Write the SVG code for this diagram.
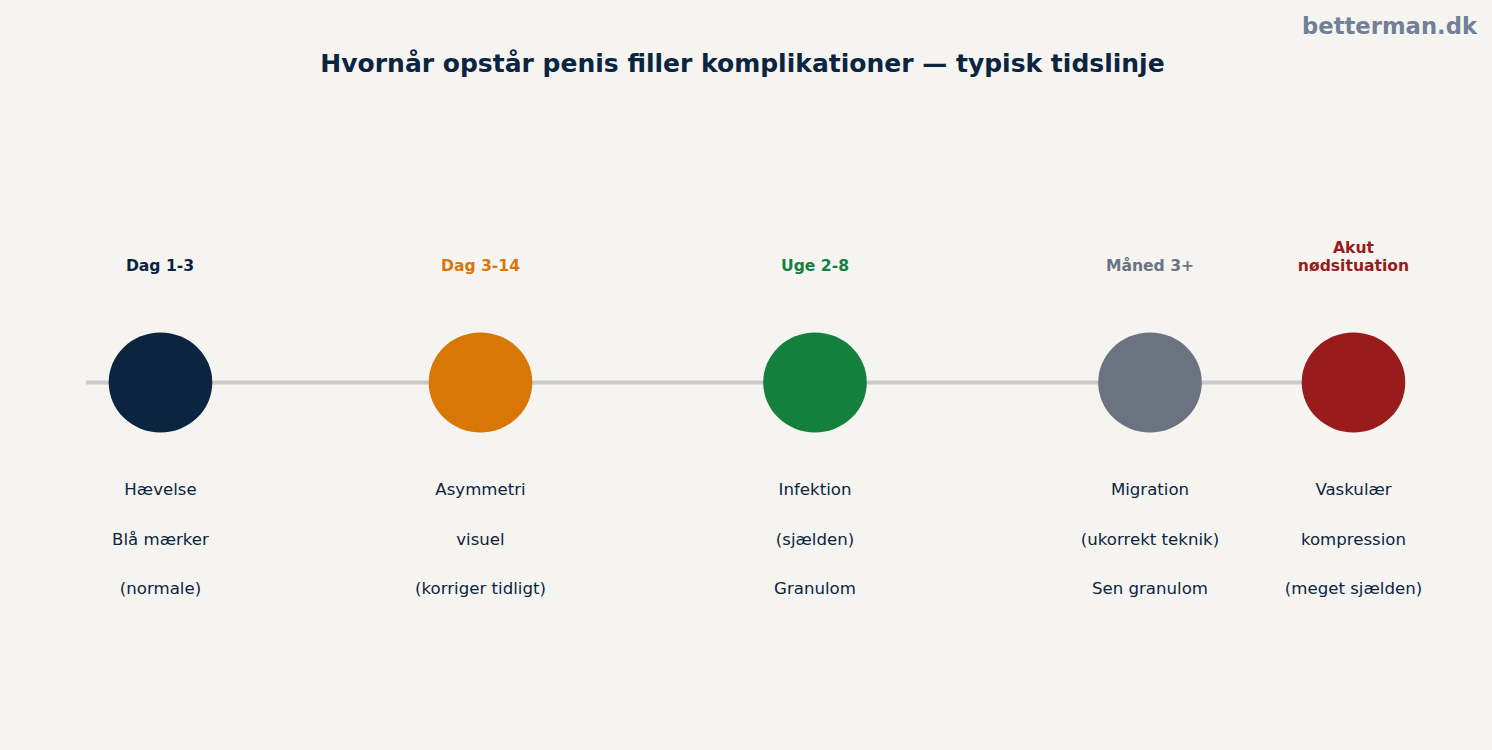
<svg xmlns="http://www.w3.org/2000/svg" width="1492" height="750" viewBox="0 0 1492 750">
<style>
text{font-family:"DejaVu Sans","Noto Sans",sans-serif;text-anchor:middle}
.title{font-size:25px;font-weight:bold;fill:#0b2540}
.brand{font-size:22.7px;font-weight:bold;fill:#718096;text-anchor:end}
.lbl{font-size:15.6px;font-weight:bold}
.desc{font-size:16.6px;fill:#0b2540}
</style>
<rect width="1492" height="750" fill="#f5f4f1"/>
<text class="brand" x="1477" y="34">betterman.dk</text>
<text class="title" x="742.5" y="72">Hvornår opstår penis filler komplikationer — typisk tidslinje</text>
<g id="connectors">
<line x1="86" y1="382.5" x2="1353" y2="382.5" stroke="#cacaca" stroke-width="4"/>
</g>
<g id="n1">
<text class="lbl" x="160" y="270.5" fill="#0b2540">Dag 1-3</text>
<ellipse cx="160.5" cy="382.5" rx="51.8" ry="50" fill="#0b2540"/>
<text class="desc" x="160.5" y="495">Hævelse</text>
<text class="desc" x="160.5" y="545">Blå mærker</text>
<text class="desc" x="160.5" y="594">(normale)</text>
</g>
<g id="n2">
<text class="lbl" x="480.5" y="270.5" fill="#d97706">Dag 3-14</text>
<ellipse cx="480.5" cy="382.5" rx="51.8" ry="50" fill="#d97706"/>
<text class="desc" x="480.5" y="495">Asymmetri</text>
<text class="desc" x="480.5" y="545">visuel</text>
<text class="desc" x="480.5" y="594">(korriger tidligt)</text>
</g>
<g id="n3">
<text class="lbl" x="815" y="270.5" fill="#15803d">Uge 2-8</text>
<ellipse cx="815" cy="382.5" rx="51.8" ry="50" fill="#15803d"/>
<text class="desc" x="815" y="495">Infektion</text>
<text class="desc" x="815" y="545">(sjælden)</text>
<text class="desc" x="815" y="594">Granulom</text>
</g>
<g id="n4">
<text class="lbl" x="1150" y="270.5" fill="#6b7280">Måned 3+</text>
<ellipse cx="1150" cy="382.5" rx="51.8" ry="50" fill="#6b7280"/>
<text class="desc" x="1150" y="495">Migration</text>
<text class="desc" x="1150" y="545">(ukorrekt teknik)</text>
<text class="desc" x="1150" y="594">Sen granulom</text>
</g>
<g id="n5">
<text class="lbl" x="1353.5" y="252.5" fill="#991b1b">Akut</text>
<text class="lbl" x="1353.5" y="270.5" fill="#991b1b">nødsituation</text>
<ellipse cx="1353.5" cy="382.5" rx="51.8" ry="50" fill="#991b1b"/>
<text class="desc" x="1353.5" y="495">Vaskulær</text>
<text class="desc" x="1353.5" y="545">kompression</text>
<text class="desc" x="1353.5" y="594">(meget sjælden)</text>
</g>
</svg>
